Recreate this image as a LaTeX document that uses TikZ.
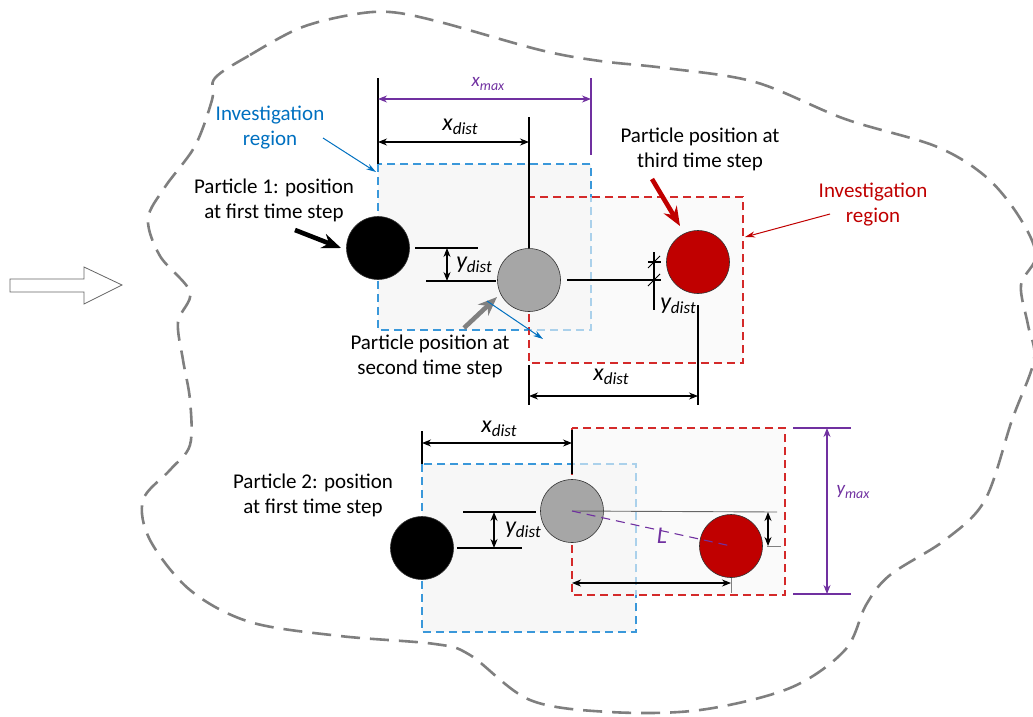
\documentclass[tikz,border=0pt]{standalone}
\usepackage{fontspec}
\setmainfont{Carlito}
\usetikzlibrary{arrows.meta,positioning,calc}
\definecolor{invblue}{HTML}{0070C0}
\definecolor{boxblue}{HTML}{3A98DA}
\definecolor{invred}{HTML}{C00000}
\definecolor{boxred}{HTML}{D42A2A}
\definecolor{maxpurple}{HTML}{7030A0}
\definecolor{pgray}{HTML}{A6A6A6}
\definecolor{blobgray}{HTML}{7F7F7F}
\definecolor{regionfill}{HTML}{F7F7F7}
\newcommand{\dimlbl}[2]{{\fontsize{24}{26}\selectfont\itshape #1\raisebox{-0.35ex}{\fontsize{17}{18}\selectfont #2}}}
\newcommand{\maxlbl}[2]{{\fontsize{19}{22}\selectfont\itshape #1\raisebox{-0.35ex}{\fontsize{14}{16}\selectfont #2}}}
\tikzset{
  >=Stealth,
  every node/.append style={font=\fontsize{21}{25}\selectfont},
}
\tikzset{
  particle/.style={circle, draw=black!80, line width=0.6pt, minimum size=63pt, inner sep=0pt},
  region/.style={dash pattern=on 8pt off 5pt, line width=1.4pt, fill=regionfill},
  dimline/.style={line width=1.1pt},
  dimarrow/.style={{Stealth[length=9pt,width=7pt]}-{Stealth[length=9pt,width=7pt]}, line width=1.1pt},
  pointer/.style={-{Stealth[length=19pt,width=15pt]}, line width=4.6pt},
  thinptr/.style={-{Stealth[length=10pt,width=6pt]}, line width=1pt},
  blob/.style={blobgray, line width=2.6pt, dash pattern=on 19pt off 10pt}
}
\begin{document}
\begin{tikzpicture}[x=1pt, y=-1pt]
\useasboundingbox (0,0) rectangle (1033,716);

% Outer boundary of the domain
\draw[blob] plot[smooth cycle, tension=0.55] coordinates {
  (215,78) (250,55) (300,28) (350,15) (390,12) (440,22) (540,50) (600,61)
  (665,68) (755,82) (845,119) (935,146) (985,176) (1018,215) (1036,255)
  (1021,285) (1028,325) (1034,360) (1012,420) (985,500) (945,540) (890,575)
  (866,605) (845,650) (790,688) (700,710) (610,712) (530,700) (470,655)
  (435,644) (340,636) (250,622) (190,590) (150,540) (143,500) (170,470)
  (190,445) (190,400) (183,360) (178,322) (190,292) (160,256) (148,219)
  (165,187) (195,146) (212,100)};

% Inflow arrow
\draw[line width=0.8pt, draw=black!60, fill=white] (10,279) -- (84,279) -- (84,267) -- (122,285)
  -- (84,304) -- (84,292) -- (10,292) -- cycle;

% Investigation regions, particle 1
\draw[region, draw=boxblue] (378,164) rectangle (591,330);
\draw[region, draw=boxred, fill opacity=0.6] (529,197) rectangle (743,363);

% Investigation regions, particle 2
\draw[region, draw=boxblue] (422,464) rectangle (636,632);
\draw[region, draw=boxred, fill opacity=0.6] (572,428) rectangle (785,595);

% Particle 1: dimensions
\coordinate (xa1) at (378,142); \coordinate (xb1) at (529,142);
\coordinate (ma) at (378,99); \coordinate (mb) at (591,99);
\draw[dimline] (378,78) -- (378,164);
\draw[dimline] (529,117) -- (529,280);
\draw[dimarrow] (xa1) -- (xb1);
\draw[dimarrow, maxpurple] (ma) -- (mb);
\draw[maxpurple, line width=2pt] (591,78) -- (591,155);
\node[maxpurple] (xmax) at (488,84) {\maxlbl{x}{max}};
\node (xdist1) at (460,127) {\dimlbl{x}{dist}};

\coordinate (ya1) at (447,248); \coordinate (yb1) at (447,281);
\draw[dimline] (415,248) -- (478,248);
\draw[dimline] (426,281) -- (496,281);
\draw[dimarrow] (ya1) -- (yb1);
\node (ydist1) at (474,265) {\dimlbl{y}{dist}};

\draw[dimline] (567,280) -- (661,280);
\draw[dimline] (648,262) -- (661,262);
\draw[dimline] (654,252) -- (654,310);
\draw[line width=0.9pt] (648,268) -- (660,256);
\draw[line width=0.9pt] (648,286) -- (660,274);
\node (ydist2) at (678,306) {\dimlbl{y}{dist}};

\coordinate (xa2) at (529,396); \coordinate (xb2) at (698,396);
\draw[dimline] (698,305) -- (698,405);
\draw[dimline] (529,365) -- (529,405);
\draw[dimarrow] (xa2) -- (xb2);
\node (xdist2) at (611,377) {\dimlbl{x}{dist}};

% Particle 1: positions
\node[particle, fill=black] (p1a) at (378,248) {};
\node[particle, fill=pgray] (p1b) at (529,280) {};
\node[particle, fill=invred] (p1c) at (698,262) {};

% Particle 2: dimensions
\coordinate (xa3) at (422,443); \coordinate (xb3) at (572,443);
\draw[dimline] (422,431) -- (422,464);
\draw[dimline] (572,430) -- (572,474);
\draw[dimarrow] (xa3) -- (xb3);
\node (xdist3) at (499,429) {\dimlbl{x}{dist}};

\coordinate (ya3) at (494,512); \coordinate (yb3) at (494,548);
\draw[dimline] (463,512) -- (536,512);
\draw[dimline] (457,548) -- (522,548);
\draw[dimarrow] (ya3) -- (yb3);
\node (ydist3) at (523,530) {\dimlbl{y}{dist}};

% Particle 2: positions
\node[particle, fill=black] (p2a) at (422,548) {};
\node[particle, fill=pgray] (p2b) at (572,511) {};
\node[particle, fill=invred] (p2c) at (731,546) {};

\draw[black!60, line width=0.9pt] (p2b.center) -- (777,512);
\draw[maxpurple, line width=1.1pt, dash pattern=on 9pt off 6pt] (p2b.center) -- (p2c.center);
\node[maxpurple] (len) at (662,538) {\dimlbl{L}{}};
\coordinate (ya4) at (768,512); \coordinate (yb4) at (768,546);
\draw[dimarrow] (ya4) -- (yb4);
\draw[black!50, line width=0.9pt] (767,546) -- (781,546);
\coordinate (xa4) at (572,583); \coordinate (xb4) at (731,583);
\draw[dimarrow] (xa4) -- (xb4);
\draw[black!50, line width=0.9pt] (731,578) -- (731,593);

\coordinate (ymt) at (827,428); \coordinate (ymb) at (827,594);
\draw[maxpurple, line width=2pt] (793,428) -- (851,428);
\draw[maxpurple, line width=2pt] (793,594) -- (851,594);
\draw[dimarrow, maxpurple] (ymt) -- (ymb);
\node[maxpurple] (ymax) at (853,492) {\maxlbl{y}{max}};

% Labels and pointers
\node[invblue, align=center] (blueinv) at (270,128) {Investigation\\region};
\node[align=center] (lblp1) at (274,200) {Particle 1: position\\at first time step};
\node[align=center] (lblsec) at (430,356) {Particle position at\\second time step};
\node[align=center] (lblthird) at (700,149) {Particle position at\\third time step};
\node[invred, align=center] (redinv) at (873,205) {Investigation\\region};
\node[align=center] (lblp2) at (313,495) {Particle 2: position\\at first time step};

\coordinate (bluetail) at (323,138); \coordinate (bluetip) at (376,172);
\draw[thinptr, invblue] (bluetail) -- (bluetip);
\coordinate (blktail) at (295,230); \coordinate (blktip) at (341,248);
\draw[pointer, black] (blktail) -- (blktip);
\coordinate (graytail) at (464,328); \coordinate (graytip) at (497,297);
\draw[pointer, black!50] (graytail) -- (graytip);
\coordinate (sectail) at (487,301); \coordinate (sectip) at (543,339);
\draw[thinptr, invblue] (sectail) -- (sectip);
\coordinate (redtail) at (652,179); \coordinate (redtip) at (680,226);
\draw[pointer, invred] (redtail) -- (redtip);
\coordinate (rinvtail) at (830,214); \coordinate (rinvtip) at (745,237);
\draw[thinptr, invred] (rinvtail) -- (rinvtip);
\end{tikzpicture}
\end{document}
